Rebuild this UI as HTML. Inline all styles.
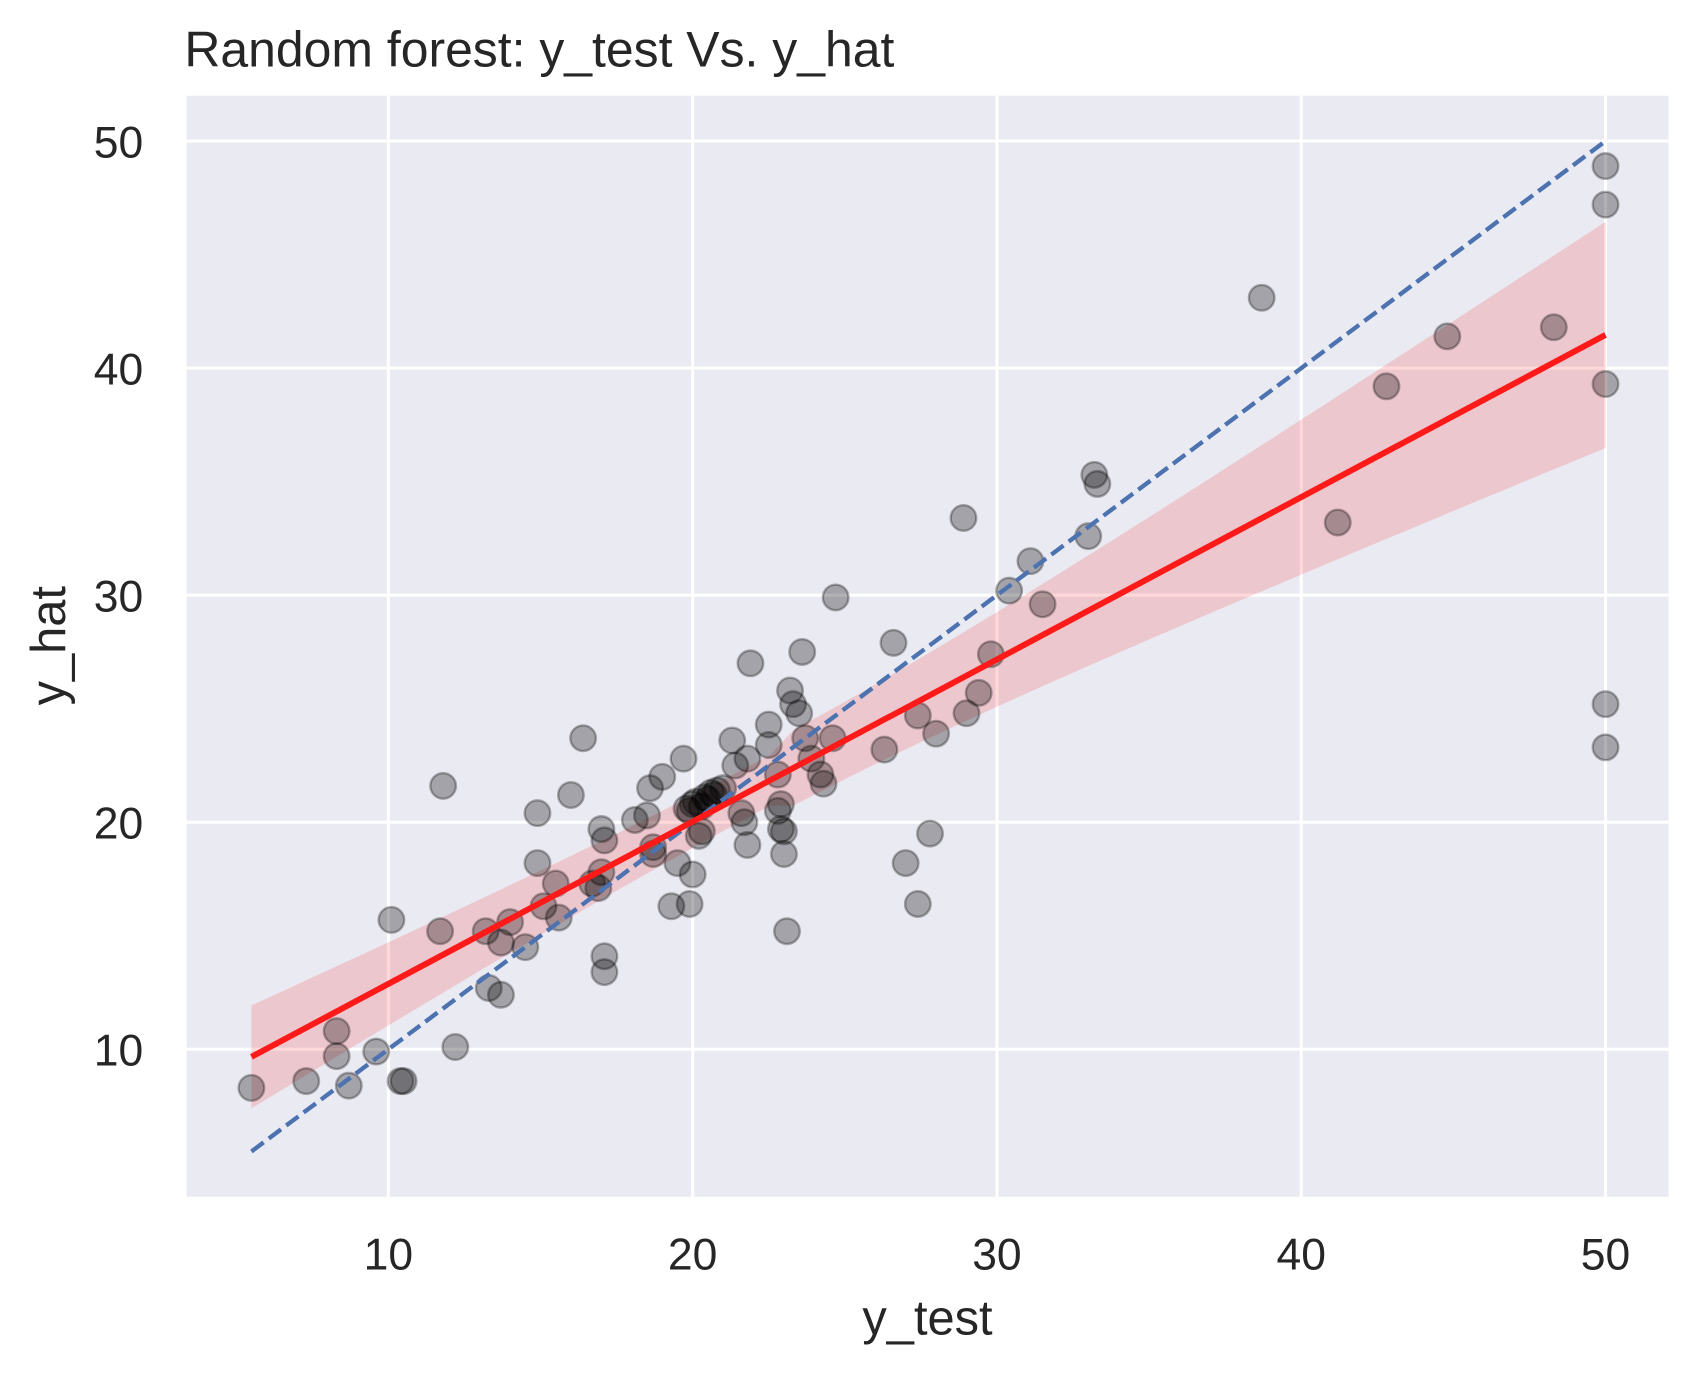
<!DOCTYPE html>
<html><head><meta charset="utf-8"><style>
html,body{margin:0;padding:0;background:#fff;}
svg{display:block;font-family:"Liberation Sans",sans-serif;}
</style></head><body>
<svg id="chart" width="1701" height="1375" viewBox="0 0 1568 1267" xmlns="http://www.w3.org/2000/svg">
<rect x="172" y="88" width="1366" height="1015" fill="#eaeaf2"/>
<g id="grid"></g>
<g id="band"></g>
<g id="points"></g>
<g id="lines"></g>
<g id="ticks"></g>
<text x="170" y="61" font-size="46" fill="#262626">Random forest: y_test Vs. y_hat</text>
<text x="855" y="1230" font-size="45" fill="#262626" text-anchor="middle">y_test</text>
<text transform="translate(60,595) rotate(-90)" font-size="45" fill="#262626" text-anchor="middle">y_hat</text>
</svg>
<script>
const xTicks=[10,20,30,40,50];
const yTicks=[10,20,30,40,50];
const yTest=[5.5,7.3,8.3,8.3,8.7,9.6,10.1,10.4,10.5,11.7,11.8,12.2,13.2,13.3,13.7,13.7,14.0,14.5,14.9,14.9,15.1,15.6,15.5,16.0,16.4,16.7,16.9,17.0,17.0,17.1,17.1,17.1,18.1,18.5,18.6,18.7,18.7,19.0,19.3,19.5,19.7,19.9,20.0,19.8,20.0,20.2,20.3,20.4,20.6,20.8,21.0,21.3,21.4,21.6,21.7,21.8,21.9,21.8,22.5,22.5,22.8,22.8,22.9,22.9,23.0,23.0,23.1,23.2,23.3,23.5,23.6,23.7,23.9,24.2,24.3,24.6,24.7,26.3,26.6,27.0,27.4,27.4,27.8,28.0,28.9,29.0,29.4,29.8,30.4,31.1,31.5,33.0,33.2,33.3,38.7,41.2,42.8,44.8,48.3,50,50,50,50,50,20.1,20.3,20.5,19.9,20.7];
const yHat=[8.3,8.6,10.8,9.7,8.4,9.9,15.7,8.6,8.6,15.2,21.6,10.1,15.2,12.7,12.4,14.7,15.6,14.5,20.4,18.2,16.3,15.8,17.3,21.2,23.7,17.3,17.1,19.7,17.8,19.2,14.1,13.4,20.1,20.3,21.5,18.6,18.9,22.0,16.3,18.2,22.8,16.4,17.7,20.6,20.8,19.4,19.6,21.1,21.3,21.4,21.5,23.6,22.5,20.4,20.0,19.0,27.0,22.8,24.3,23.4,22.1,20.5,20.8,19.7,19.6,18.6,15.2,25.8,25.2,24.8,27.5,23.7,22.8,22.1,21.7,23.7,29.9,23.2,27.9,18.2,16.4,24.7,19.5,23.9,33.4,24.8,25.7,27.4,30.2,31.5,29.6,32.6,35.3,34.9,43.1,33.2,39.2,41.4,41.8,48.9,47.2,39.3,25.2,23.3,20.9,20.7,21.0,20.5,21.2];
const NS="http://www.w3.org/2000/svg";
const X=v=>358+(v-10)*28.05;
const Y=v=>967-(v-10)*20.93;
function mk(tag,attrs,parent){const e=document.createElementNS(NS,tag);for(const k in attrs)e.setAttribute(k,attrs[k]);document.getElementById(parent).appendChild(e);return e;}
xTicks.forEach(t=>{
  const l=mk('line',{x1:X(t),x2:X(t),y1:88,y2:1103,stroke:'#fff','stroke-width':2.8},'grid');
  
  
  const tx=mk('text',{x:X(t),y:1170,'font-size':41,fill:'#262626','text-anchor':'middle'},'ticks');
  tx.textContent=t;
  
  
});
yTicks.forEach(t=>{
  const l=mk('line',{x1:172,x2:1538,y1:Y(t),y2:Y(t),stroke:'#fff','stroke-width':2.8},'grid');
  
  
  const tx=mk('text',{x:132,y:Y(t)+15,'font-size':41,fill:'#262626','text-anchor':'end'},'ticks');
  tx.textContent=t;
  
  
});
const n=yTest.length;
const mx=yTest.reduce((a,b)=>a+b,0)/n, my=yHat.reduce((a,b)=>a+b,0)/n;
let sxx=0,sxy=0;for(let i=0;i<n;i++){sxx+=(yTest[i]-mx)**2;sxy+=(yTest[i]-mx)*(yHat[i]-my);}
const b=sxy/sxx,a=my-b*mx;
let sse=0;for(let i=0;i<n;i++)sse+=(yHat[i]-a-b*yTest[i])**2;
const s=Math.sqrt(sse/(n-2));
const xmin=Math.min(...yTest),xmax=Math.max(...yTest);
const up=[],lo=[];
for(let k=0;k<=60;k++){const xv=xmin+(xmax-xmin)*k/60;const d=Math.abs(xv-mx);const se=s*Math.sqrt(1/n+d*d/sxx)*(xv>mx?4.3:2.9);const yv=a+b*xv;up.push(X(xv)+','+Y(yv+se));lo.unshift(X(xv)+','+Y(yv-se));}
const band=mk('polygon',{points:up.concat(lo).join(' '),fill:'#ff0000','fill-opacity':0.15},'band');


for(let i=0;i<n;i++){
  const c=mk('circle',{cx:X(yTest[i]),cy:Y(yHat[i]),r:11.8,fill:'rgba(0,0,0,0.3)',stroke:'rgba(0,0,0,0.3)','stroke-width':2.2},'points');
  
  
}
const id=mk('line',{x1:X(xmin),y1:Y(xmin),x2:X(xmax),y2:Y(xmax),stroke:'#4c72b0','stroke-width':4,'stroke-dasharray':'14,6'},'lines');


const rl=mk('line',{x1:X(xmin),y1:Y(a+b*xmin),x2:X(xmax),y2:Y(a+b*xmax),stroke:'#ff1a1a','stroke-width':5.5},'lines');


</script>
</body></html>
